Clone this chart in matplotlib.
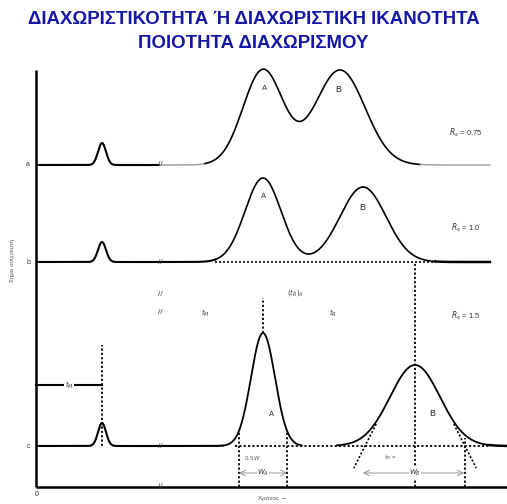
import numpy as np
import matplotlib
matplotlib.use("Agg")
import matplotlib.pyplot as plt

# ---------------- data ----------------
trace_labels = ["a", "b", "c"]
baselines = [322, 225, 41]          # signal offset of each chromatogram
peakA_t = [227, 227, 227]           # retention time of A
peakB_t = [304, 327, 379]           # retention time of B
heightA = [95, 84, 113]
heightB = [95, 75, 81]
sigmaA = [20, 18, 12]
sigmaB = [25, 23, 25]
dead_t = 66                          # t_M
dead_height = [22, 20, 23]
dead_sigma = 4
rs_labels = ["$R_s$ = 0.75", "$R_s$ = 1.0", "$R_s$ = 1.5"]
curve_range = [(169, 384), (179, 399), (187, 454)]
trace_end = [454, 454, 471]
break_t = 124
title1 = "ΔΙΑΧΩΡΙΣΤΙΚΟΤΗΤΑ Ή ΔΙΑΧΩΡΙΣΤΙΚΗ ΙΚΑΝΟΤΗΤΑ"
title2 = "ΠΟΙΟΤΗΤΑ ΔΙΑΧΩΡΙΣΜΟΥ"
xlabel = "Χρόνος →"
ylabel = "Σήμα ανιχνευτή"

plt.rcParams["font.family"] = ["Liberation Sans", "DejaVu Sans"]

fig = plt.figure(figsize=(5.07, 5.04), dpi=100)
ax = fig.add_axes([0, 0, 1, 1])
ax.set_xlim(-36, 471)
ax.set_ylim(-17, 487)
ax.axis("off")

def gauss(t, mu, s, h):
    return h * np.exp(-0.5 * ((t - mu) / s) ** 2)

t = np.linspace(0, 471, 3000)
dot = (0, (1.2, 1.2))
txt = "#333333"

for i in range(3):
    b = baselines[i]
    y = (b + gauss(t, dead_t, dead_sigma, dead_height[i])
         + gauss(t, peakA_t[i], sigmaA[i], heightA[i])
         + gauss(t, peakB_t[i], sigmaB[i], heightB[i]))
    c0, c1 = curve_range[i]
    m = t <= break_t
    ax.plot(t[m], y[m], color="black", lw=1.5, solid_capstyle="butt")
    if i == 0:
        m = (t >= break_t) & (t <= c0)
        ax.plot(t[m], y[m], color="#9a9a9a", lw=1.0)
        m = (t >= c0) & (t <= c1)
        ax.plot(t[m], y[m], color="black", lw=1.2)
        m = (t >= c1) & (t <= trace_end[i])
        ax.plot(t[m], y[m], color="#9a9a9a", lw=1.0)
    elif i == 1:
        m = (t >= break_t) & (t <= c0)
        ax.plot(t[m], y[m], color="black", lw=1.5)
        m = (t >= c0) & (t <= c1)
        ax.plot(t[m], y[m], color="black", lw=1.2)
        m = (t >= c1) & (t <= trace_end[i])
        ax.plot(t[m], y[m], color="black", lw=1.8)
        ax.plot([c0, c1], [b, b], color="black", lw=1.2, ls=dot)
    else:
        m = (t >= break_t) & (t <= c0)
        ax.plot(t[m], y[m], color="black", lw=1.5)
        m = (t >= c0) & (t <= c1) & (y - b > 0.6)
        yy = np.where(m, y, np.nan)
        ax.plot(t, yy, color="black", lw=1.3)
        ax.plot([c0 + 12, c1], [b, b], color="black", lw=1.3, ls=dot)
        m = t >= c1
        ax.plot(t[m], y[m], color="black", lw=1.8)
    ax.text(-6, b, trace_labels[i], fontsize=5, ha="right", va="center", color=txt)
    ax.text(430, b + [32, 34, 130][i], rs_labels[i], fontsize=5.5, ha="center", va="center", color=txt)
    ax.text(peakA_t[i] + [2, 1, 9][i], b + [77, 65, 32][i], "A", fontsize=5.5, ha="center", va="center", color=txt)
    ax.text(peakB_t[i] + [-2, -1, 17][i], b + [75, 54, 33][i], "B", fontsize=6.5, ha="center", va="center", color="#222222")

# axes lines
ax.plot([0, 0], [0, 417], color="black", lw=1.8, solid_capstyle="butt")
ax.plot([0, 471], [0, 0], color="black", lw=1.8, solid_capstyle="butt")
ax.text(0.5, -7, "0", fontsize=5, ha="center", va="center", color=txt)

# break marks
for yb in [baselines[0], baselines[1], 192, 174, baselines[2], 0]:
    ax.text(break_t, yb, "//", fontsize=6, ha="center", va="center", color="#444444")

# t_M construction
bc = baselines[2]
ax.plot([dead_t, dead_t], [bc, 142], color="black", lw=1.3, ls=dot)
ax.plot([0, dead_t], [102, 102], color="black", lw=1.5)
ax.text(dead_t / 2, 102, "$t_M$", fontsize=5, ha="center", va="center",
        color=txt, bbox=dict(fc="white", ec="none", pad=0.3))

# peak A (c) construction
pa, sa, ha_ = peakA_t[2], sigmaA[2], heightA[2]
ax.plot([pa, pa], [bc + ha_, 189], color="black", lw=1.3, ls=dot)
for sgn in (-1, 1):
    xb = pa + sgn * 2 * sa
    ax.plot([xb, xb], [0, bc + 15], color="black", lw=1.3, ls=dot)
ax.annotate("", xy=(pa - 2 * sa, 14), xytext=(pa + 2 * sa, 14),
            arrowprops=dict(arrowstyle="<->", color="#888888", lw=0.6, shrinkA=0, shrinkB=0))
ax.text(pa, 14, "$W_A$", fontsize=5, ha="center", va="center", color=txt,
        bbox=dict(fc="white", ec="none", pad=0.3))
ax.text(pa - 10, bc - 12, "$0.5\\,W$", fontsize=4, ha="center", va="center", color="#555555")

# peak B (c) construction
pb, sb, hb = peakB_t[2], sigmaB[2], heightB[2]
ax.plot([pb, pb], [0, baselines[1]], color="black", lw=1.3, ls=dot)
slope = hb * np.exp(-0.5) / sb
for sgn in (-1, 1):
    x0 = pb + sgn * 2 * sb
    xs = np.array([x0 - sgn * 22 / slope, x0 + sgn * 22 / slope])
    ys = bc + slope * (-sgn) * (xs - x0)
    ax.plot(xs, ys, color="black", lw=1.2, ls=dot)
ax.plot([pb + 2 * sb, pb + 2 * sb], [0, bc + 8], color="black", lw=1.3, ls=dot)
ax.annotate("", xy=(pb - 2 * sb - 2, 14), xytext=(pb + 2 * sb - 1, 14),
            arrowprops=dict(arrowstyle="<->", color="#888888", lw=0.6, shrinkA=0, shrinkB=0))
ax.text(pb, 14, "$W_B$", fontsize=5, ha="center", va="center", color=txt,
        bbox=dict(fc="white", ec="none", pad=0.3))
ax.text(pb - 25, bc - 12, "$t_R$ =", fontsize=4.5, ha="center", va="center", color="#555555")

# labels in panel c region
ax.text(169, 174, "$t_M$", fontsize=5, ha="center", va="center", color="#444444")
ax.text(259, 194, "$(t_R)_A$", fontsize=5, ha="center", va="center", color="#444444")
ax.text(297, 174, "$t_R$", fontsize=5, ha="center", va="center", color="#444444")
ax.text(pb - 3, 194, "'", fontsize=5, ha="center", va="center", color="#444444")
ax.text(pb - 3, 174, "'", fontsize=5, ha="center", va="center", color="#444444")

# axis labels
ax.text(236, -11, xlabel, fontsize=4.5, ha="center", va="center", color="#555555")
ax.text(-24, 227, ylabel, fontsize=4.5, ha="center", va="center", rotation=90, color="#555555")

# title
fig.text(0.5, 1 - 19 / 504, title1, fontsize=13.4, fontweight="bold", color="#1616a6",
         ha="center", va="center")
fig.text(0.5, 1 - 43 / 504, title2, fontsize=13.4, fontweight="bold", color="#1616a6",
         ha="center", va="center")

fig.savefig("out.png", dpi=100)
